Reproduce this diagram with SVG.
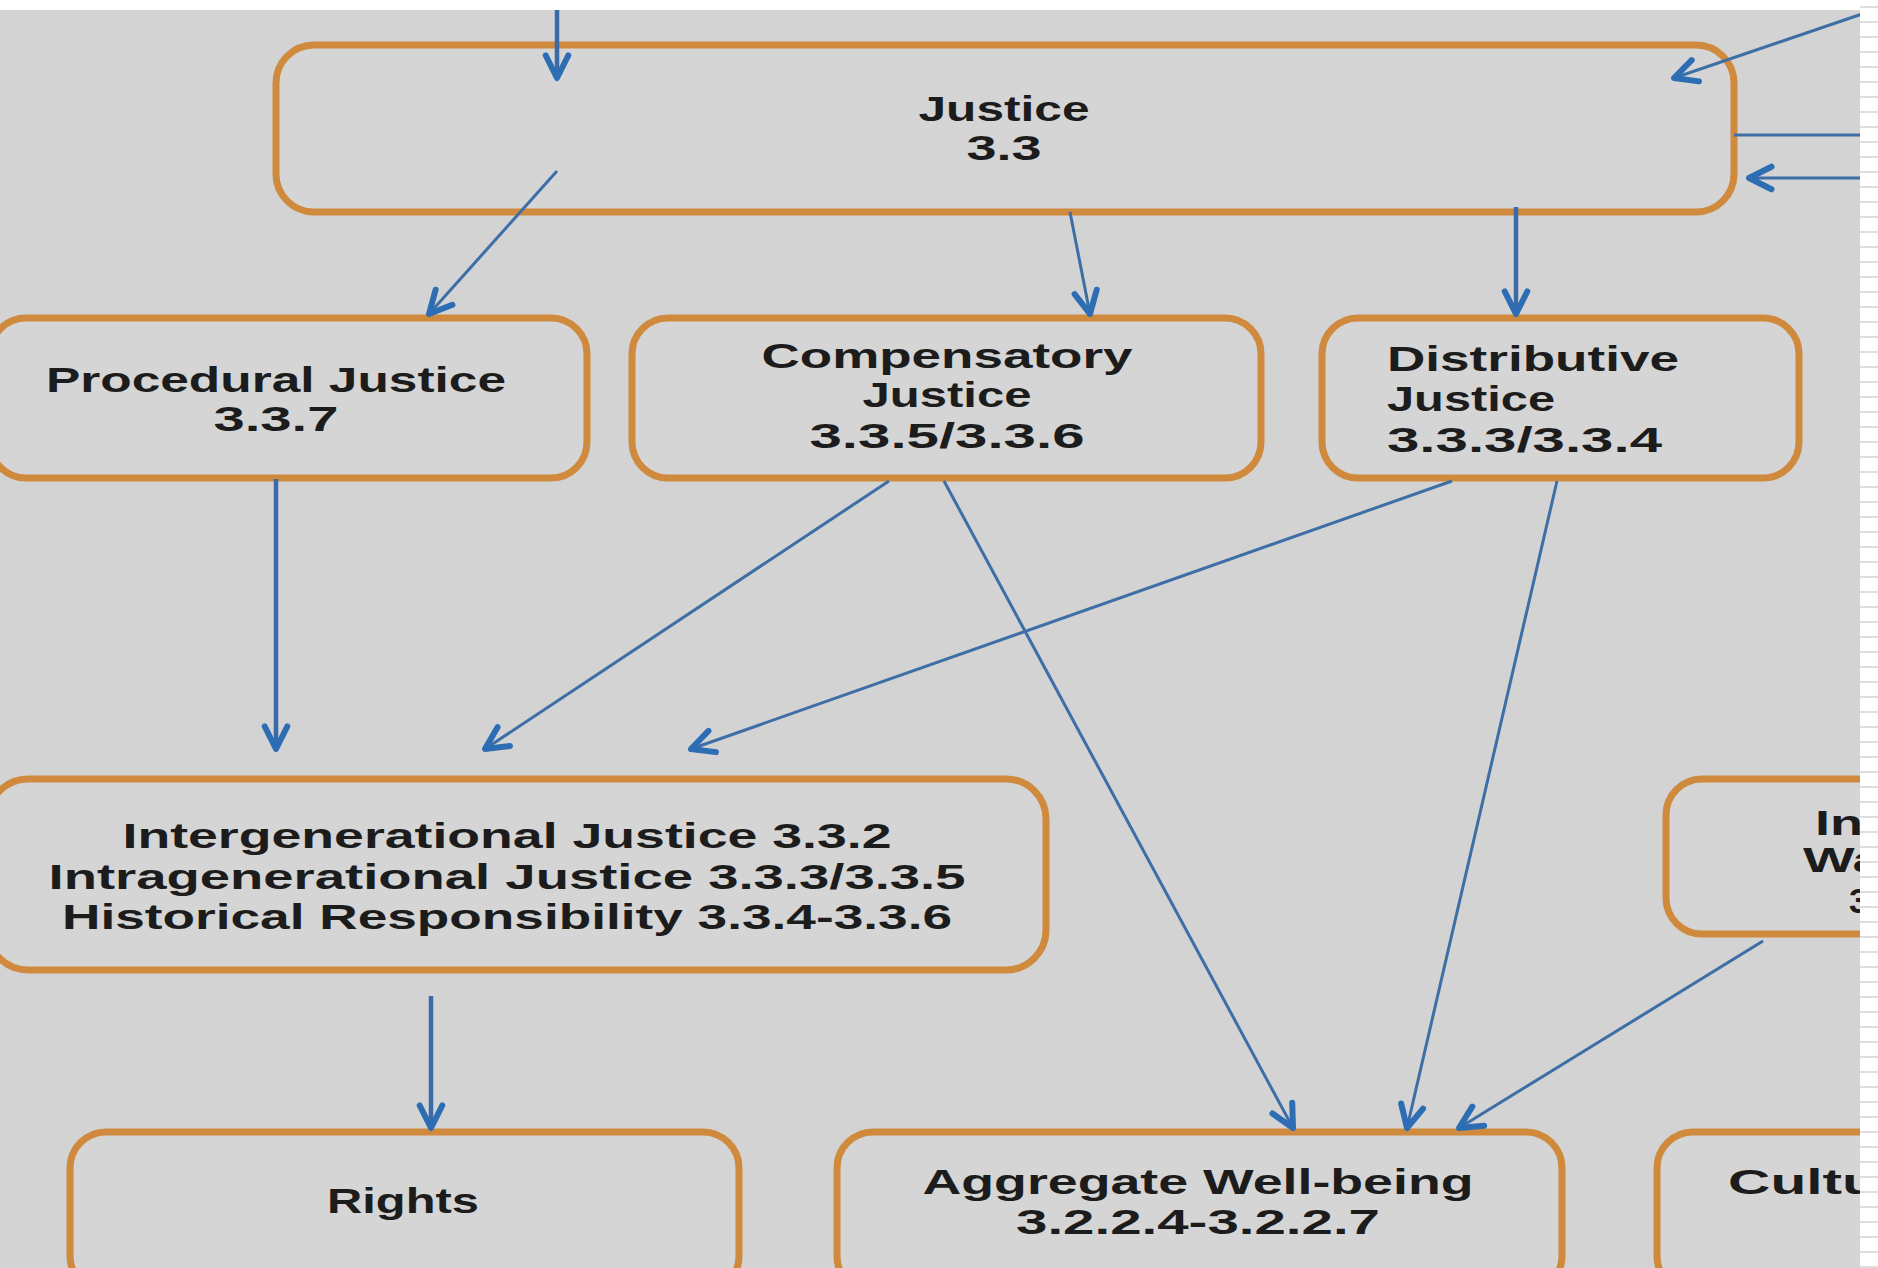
<svg xmlns="http://www.w3.org/2000/svg" width="1878" height="1268" viewBox="0 0 1878 1268">
<style>
.box{fill:#d5d5d5;stroke:#d08a3e;stroke-width:7}
.t{font-family:"Liberation Sans",Arial,sans-serif;font-weight:bold;font-size:35px;fill:#1c1c1c}
.c{stroke:#3d6ea6;stroke-width:3;fill:none}
.v{stroke:#3a6ba8;stroke-width:4.5;fill:none}
</style>
<defs>
<marker id="ah" viewBox="0 0 12 12" refX="10.5" refY="6" markerWidth="30" markerHeight="30" markerUnits="userSpaceOnUse" orient="auto">
<path d="M1.5,1.5 L10.5,6 L1.5,10.5" fill="none" stroke="#2d6db4" stroke-width="2.4" stroke-linecap="round" stroke-linejoin="round"/>
</marker>
<pattern id="strip" width="18" height="15" patternUnits="userSpaceOnUse">
<rect width="18" height="15" fill="#ffffff"/>
<line x1="0" y1="7" x2="18" y2="7" stroke="#dedede" stroke-width="2"/>
</pattern>
</defs>
<rect width="1878" height="1268" fill="#d3d3d3"/>
<rect x="0" y="0" width="1878" height="10" fill="#ffffff"/>

<g id="justice">
<rect class="box" x="276" y="45" width="1458" height="167" rx="38"/>
<text class="t" x="1004" y="121" text-anchor="middle" textLength="171" lengthAdjust="spacingAndGlyphs">Justice</text>
<text class="t" x="1004" y="160" text-anchor="middle" textLength="75" lengthAdjust="spacingAndGlyphs">3.3</text>
</g>
<g id="procedural">
<rect class="box" x="-10" y="318" width="597" height="160" rx="36"/>
<text class="t" x="276" y="392" text-anchor="middle" textLength="460" lengthAdjust="spacingAndGlyphs">Procedural Justice</text>
<text class="t" x="276" y="431" text-anchor="middle" textLength="125" lengthAdjust="spacingAndGlyphs">3.3.7</text>
</g>
<g id="compensatory">
<rect class="box" x="632" y="318" width="629" height="160" rx="36"/>
<text class="t" x="947" y="368" text-anchor="middle" textLength="371" lengthAdjust="spacingAndGlyphs">Compensatory</text>
<text class="t" x="947" y="407" text-anchor="middle" textLength="169" lengthAdjust="spacingAndGlyphs">Justice</text>
<text class="t" x="947" y="448" text-anchor="middle" textLength="275" lengthAdjust="spacingAndGlyphs">3.3.5/3.3.6</text>
</g>
<g id="distributive">
<rect class="box" x="1322" y="318" width="477" height="160" rx="36"/>
<text class="t" x="1387" y="371" textLength="292" lengthAdjust="spacingAndGlyphs">Distributive</text>
<text class="t" x="1387" y="411" textLength="168" lengthAdjust="spacingAndGlyphs">Justice</text>
<text class="t" x="1387" y="452" textLength="275" lengthAdjust="spacingAndGlyphs">3.3.3/3.3.4</text>
</g>
<g id="generational">
<rect class="box" x="-12" y="779" width="1058" height="191" rx="40"/>
<text class="t" x="507" y="848" text-anchor="middle" textLength="769" lengthAdjust="spacingAndGlyphs">Intergenerational Justice 3.3.2</text>
<text class="t" x="507" y="889" text-anchor="middle" textLength="917" lengthAdjust="spacingAndGlyphs">Intragenerational Justice 3.3.3/3.3.5</text>
<text class="t" x="507" y="929" text-anchor="middle" textLength="890" lengthAdjust="spacingAndGlyphs">Historical Responsibility 3.3.4-3.3.6</text>
</g>
<g id="right-node">
<rect class="box" x="1666" y="779" width="260" height="155" rx="36"/>
<text class="t" x="1815" y="835" textLength="48" lengthAdjust="spacingAndGlyphs">In</text>
<text class="t" x="1803" y="872" textLength="80" lengthAdjust="spacingAndGlyphs">Wa</text>
<text class="t" x="1849" y="913">3</text>
</g>
<g id="rights">
<rect class="box" x="70" y="1132" width="669" height="160" rx="36"/>
<text class="t" x="403" y="1213" text-anchor="middle" textLength="152" lengthAdjust="spacingAndGlyphs">Rights</text>
</g>
<g id="aggregate">
<rect class="box" x="837" y="1132" width="725" height="160" rx="36"/>
<text class="t" x="1198" y="1194" text-anchor="middle" textLength="551" lengthAdjust="spacingAndGlyphs">Aggregate Well-being</text>
<text class="t" x="1198" y="1234" text-anchor="middle" textLength="364" lengthAdjust="spacingAndGlyphs">3.2.2.4-3.2.2.7</text>
</g>
<g id="culture">
<rect class="box" x="1657" y="1132" width="260" height="160" rx="36"/>
<text class="t" x="1728" y="1194" textLength="150" lengthAdjust="spacingAndGlyphs">Cultu</text>
</g>

<g id="connectors">
<line class="v" x1="557" y1="10" x2="557" y2="78" marker-end="url(#ah)"/>
<line class="c" x1="1862" y1="14" x2="1674" y2="78" marker-end="url(#ah)"/>
<line class="c" x1="1734" y1="135" x2="1862" y2="135"/>
<line class="c" x1="1862" y1="178" x2="1749" y2="178" marker-end="url(#ah)"/>
<line class="c" x1="557" y1="171" x2="429" y2="314" marker-end="url(#ah)"/>
<line class="c" x1="1070" y1="212" x2="1090" y2="314" marker-end="url(#ah)"/>
<line class="v" x1="1516" y1="207" x2="1516" y2="314" marker-end="url(#ah)"/>
<line class="v" x1="276" y1="479" x2="276" y2="749" marker-end="url(#ah)"/>
<line class="c" x1="889" y1="481" x2="485" y2="749" marker-end="url(#ah)"/>
<line class="c" x1="1452" y1="481" x2="691" y2="749" marker-end="url(#ah)"/>
<line class="c" x1="944" y1="481" x2="1293" y2="1128" marker-end="url(#ah)"/>
<line class="c" x1="1557" y1="481" x2="1407" y2="1128" marker-end="url(#ah)"/>
<line class="c" x1="1763" y1="941" x2="1459" y2="1128" marker-end="url(#ah)"/>
<line class="v" x1="431" y1="996" x2="431" y2="1128" marker-end="url(#ah)"/>
</g>

<rect x="1860" y="0" width="18" height="1268" fill="url(#strip)"/>
</svg>
